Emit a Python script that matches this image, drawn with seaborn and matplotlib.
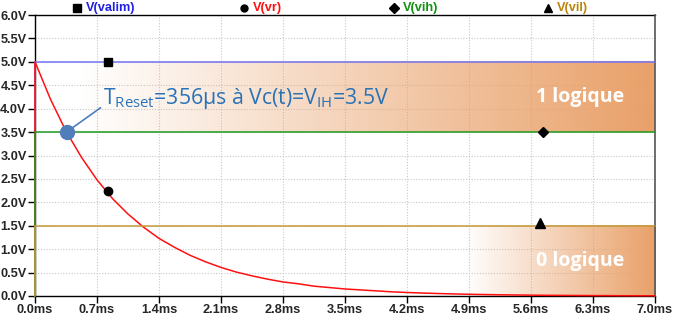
import numpy as np
import pandas as pd
import matplotlib
matplotlib.use("Agg")
import matplotlib.pyplot as plt
import seaborn as sns

# ---- data ----
t_ms = [0.0, 0.0, 0.175, 0.35, 0.525, 0.7, 0.875, 1.05, 1.225, 1.4, 1.575, 1.75, 1.925,
        2.1, 2.275, 2.45, 2.625, 2.8, 2.975, 3.15, 3.325, 3.5, 3.675, 3.85, 4.025,
        4.2, 4.375, 4.55, 4.725, 4.9, 5.075, 5.25, 5.425, 5.6, 5.775, 5.95, 6.125,
        6.3, 6.475, 6.65, 6.825, 7.0]
v_vr = [0.0, 5.0, 4.20, 3.52, 2.96, 2.48, 2.08, 1.75, 1.47, 1.23, 1.04, 0.87, 0.73,
        0.61, 0.51, 0.43, 0.36, 0.30, 0.26, 0.21, 0.18, 0.15, 0.13, 0.11, 0.089,
        0.075, 0.063, 0.053, 0.044, 0.037, 0.031, 0.026, 0.022, 0.018, 0.015, 0.013, 0.011,
        0.009, 0.008, 0.006, 0.005, 0.0045]
t_flat = [0.0, 0.0, 7.0]
v_valim = [0.0, 5.0, 5.0]
v_vih = [0.0, 3.5, 3.5]
v_vil = [0.0, 1.5, 1.5]

x_ticks = [0.0, 0.7, 1.4, 2.1, 2.8, 3.5, 4.2, 4.9, 5.6, 6.3, 7.0]
y_ticks = [0.0, 0.5, 1.0, 1.5, 2.0, 2.5, 3.0, 3.5, 4.0, 4.5, 5.0, 5.5, 6.0]
trace_names = ["V(valim)", "V(vr)", "V(vih)", "V(vil)"]
t_reset_ms = 0.356
v_ih = 3.5
marker_t = [0.82, 0.82, 5.73, 5.70]
marker_v = [5.0, 2.25, 3.5, 1.55]

# ---- styling ----
sns.set_style("white")
plt.rcParams["font.family"] = ["Liberation Sans", "DejaVu Sans"]
plt.rcParams["mathtext.fontset"] = "custom"
plt.rcParams["mathtext.rm"] = "Open Sans"
plt.rcParams["mathtext.it"] = "Open Sans"

c_valim = "#7474F8"
c_vr = "#FF1010"
c_vih = "#1E9A1E"
c_vil = "#C49A3A"
txt_cols = ["#2020E0", "#FF1010", "#119011", "#B8860B"]
orange = np.array([233, 160, 104]) / 255.0

fig = plt.figure(figsize=(6.74, 3.20), dpi=100)
ax = fig.add_axes([35 / 674, 1 - 296 / 320, 620 / 674, 281 / 320])
ax.set_xlim(0, 7.0)
ax.set_ylim(0, 6.0)

# gradient boxes
def grad_box(x0, x1, y0, y1):
    n = 256
    img = np.zeros((2, n, 4))
    img[..., :3] = orange
    img[..., 3] = np.linspace(0, 1, n)[None, :]
    ax.imshow(img, extent=[x0, x1, y0, y1], aspect="auto", origin="lower",
              zorder=1, interpolation="bilinear")

grad_box(0.5, 7.0, 3.5, 5.0)
grad_box(4.85, 7.0, 0.0, 1.5)
ax.set_xlim(0, 7.0)
ax.set_ylim(0, 6.0)

# grid
ax.set_xticks(x_ticks)
ax.set_yticks(y_ticks)
ax.grid(True, color="#C8C8C8", linestyle=(0, (1, 1.5)), linewidth=0.8, zorder=0)
ax.set_axisbelow(True)

# traces
df_valim = pd.DataFrame({"t": t_flat, "v": v_valim})
df_vr = pd.DataFrame({"t": t_ms, "v": v_vr})
df_vih = pd.DataFrame({"t": t_flat, "v": v_vih})
df_vil = pd.DataFrame({"t": t_flat, "v": v_vil})
kw = dict(x="t", y="v", sort=False, estimator=None, ax=ax, linewidth=1.1, legend=False)
sns.lineplot(data=df_valim, color=c_valim, zorder=3, **kw)
sns.lineplot(data=df_vr, color=c_vr, zorder=4, **kw)
sns.lineplot(data=df_vih, color=c_vih, zorder=5, **kw)
sns.lineplot(data=df_vil, color=c_vil, zorder=6, **kw)
for ln in ax.lines:
    ln.set_clip_on(False)

# trace markers
mk = ["s", "o", "D", "^"]
ms = [6, 6, 5, 7]
for i in range(4):
    ax.plot(marker_t[i], marker_v[i], marker=mk[i], color="black", markersize=ms[i],
            linestyle="none", zorder=8, clip_on=False)

# top legend
leg_x = [86, 253, 403, 557]
for i in range(4):
    fig.text(leg_x[i] / 674, 1 - 8 / 320, trace_names[i], color=txt_cols[i],
             fontsize=9.2, fontweight="bold", va="center", ha="left")
    mx = (leg_x[i] - 9) / 674
    fig.lines.append(plt.Line2D([mx], [1 - 8 / 320], marker=mk[i], color="black",
                                markersize=[6, 5, 5, 6][i], linestyle="none",
                                transform=fig.transFigure))

# annotation
ax.plot([t_reset_ms, 0.74], [v_ih, 4.02], color="#4F7EBB", linewidth=1.2, zorder=8)
ax.plot(t_reset_ms, v_ih, marker="o", color="#4F7EBB", markersize=10, zorder=9,
        linestyle="none")
ax.text(0.77, 4.1, r"T$_{\mathrm{Reset}}$=356µs à Vc(t)=V$_{\mathrm{IH}}$=3.5V",
        color="#2872B8", fontsize=15.3, family=["Open Sans", "DejaVu Sans"],
        va="baseline", ha="left", zorder=9)
ax.text(6.16, 4.25, "1 logique", color="white", fontsize=14, fontweight="bold",
        family=["Open Sans", "DejaVu Sans"], ha="center", va="center", zorder=9)
ax.text(6.16, 0.75, "0 logique", color="white", fontsize=14, fontweight="bold",
        family=["Open Sans", "DejaVu Sans"], ha="center", va="center", zorder=9)

# ticks and frame
ax.set_xticklabels([f"{x:.1f}ms" for x in x_ticks])
ax.set_yticklabels([f"{y:.1f}V" for y in y_ticks])
ax.tick_params(axis="both", direction="out", length=5, width=1, color="black",
               labelsize=9.2, pad=1, bottom=True, left=True)
for lab in ax.get_xticklabels() + ax.get_yticklabels():
    lab.set_fontweight("bold")
for side in ["left", "bottom", "top"]:
    ax.spines[side].set_color("black")
    ax.spines[side].set_linewidth(1.0)
    ax.spines[side].set_zorder(2)
ax.spines["right"].set_color("#555555")
ax.spines["right"].set_linewidth(1.2)
ax.set_xlabel("")
ax.set_ylabel("")

fig.savefig("out.png", dpi=100)
